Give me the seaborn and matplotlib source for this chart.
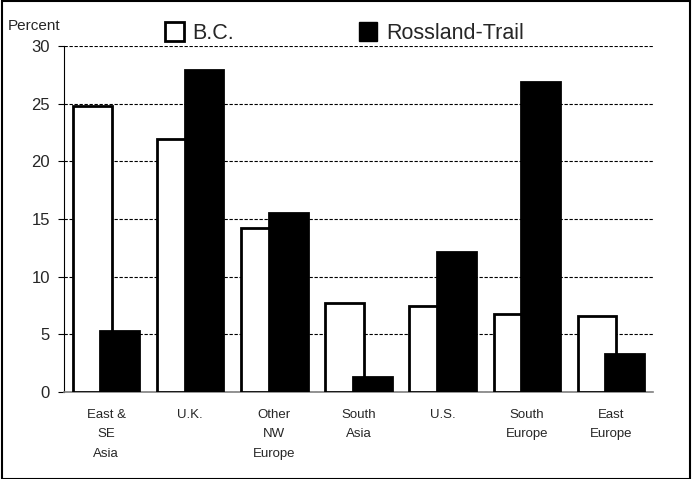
import pandas as pd
import matplotlib.pyplot as plt
import seaborn as sns
from matplotlib.patches import Patch, Rectangle

# Dados
regioes = ['East &\nSE\nAsia', 'U.K.', 'Other\nNW\nEurope', 'South\nAsia', 'U.S.', 'South\nEurope', 'East\nEurope']
bc = [24.8, 21.9, 14.2, 7.7, 7.5, 6.8, 6.6]
rossland = [5.3, 27.9, 15.5, 1.3, 12.1, 26.9, 3.3]
series = ['B.C.', 'Rossland-Trail']

df = pd.DataFrame({
    'regiao': regioes * 2,
    'serie': [series[0]] * len(regioes) + [series[1]] * len(regioes),
    'pct': bc + rossland,
})

sns.set_theme(style="white")
plt.rcParams['font.family'] = ['Liberation Sans', 'DejaVu Sans']

fig = plt.figure(figsize=(6.92, 4.79), dpi=100)
ax = fig.add_axes([0.0925, 0.1816, 0.851, 0.7223])

sns.barplot(data=df, x='regiao', y='pct', hue='serie', order=regioes, hue_order=series,
            palette=['white', 'black'], width=0.655, gap=-0.41, edgecolor='black',
            linewidth=2, ax=ax, legend=False, zorder=3)

ax.set_ylim(0, 30)
ax.set_xlim(-0.5, len(regioes) - 0.5)
ax.set_yticks(range(0, 31, 5))
ax.yaxis.grid(True, linestyle=(0, (3, 1.5)), color='black', linewidth=0.8, zorder=0)
ax.set_axisbelow(True)
for s in ['top', 'right']:
    ax.spines[s].set_visible(False)
ax.spines['left'].set_color('black')
ax.spines['left'].set_linewidth(0.8)
ax.spines['bottom'].set_color('#808080')
ax.spines['bottom'].set_linewidth(1.2)
ax.tick_params(axis='y', left=True, length=4, width=0.8, color='black', labelsize=12, pad=6)
ax.tick_params(axis='x', bottom=False, labelsize=9.5, pad=6)
ax.set_xticks(range(len(regioes)))
ax.set_xticklabels(regioes, linespacing=1.85)
ax.set_xlabel('')
ax.set_ylabel('')

fig.text(0.011, 0.945, 'Percent', fontsize=11, ha='left', va='center')

handles = [Patch(facecolor='white', edgecolor='black', linewidth=2),
           Patch(facecolor='black', edgecolor='black')]
fig.legend(handles, series, loc='center left', bbox_to_anchor=(0.211, 0.931), ncol=2,
           frameon=False, fontsize=15.5, handlelength=0.85, handleheight=1.0,
           handletextpad=0.4, columnspacing=5.8)

fig.patches.append(Rectangle((0.003, 0.0), 0.994, 0.997, transform=fig.transFigure,
                             fill=False, edgecolor='black', linewidth=1.5))

plt.savefig('out.png', dpi=100)
plt.close()
